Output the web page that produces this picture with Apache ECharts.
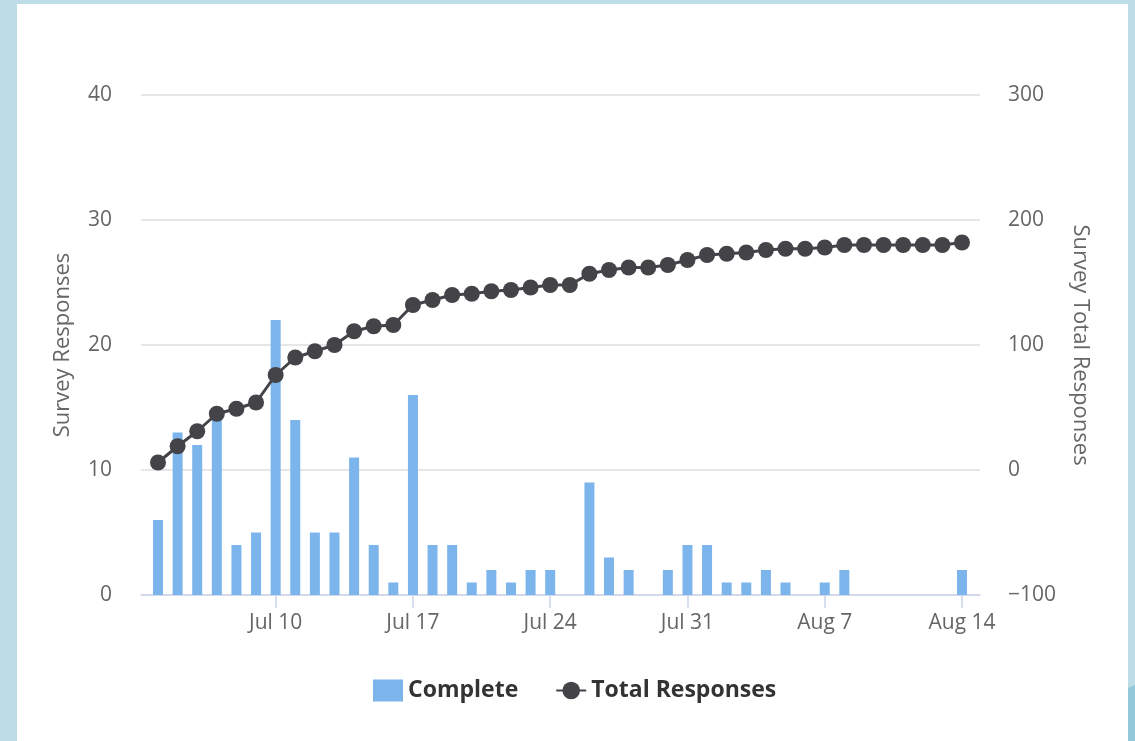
<!DOCTYPE html>
<html>
<head>
<meta charset="utf-8">
<style>
  html, body { margin: 0; padding: 0; background: #ffffff; }
  #chart { width: 1135px; height: 741px; }
</style>
<script src="https://cdn.jsdelivr.net/npm/echarts@6/dist/echarts.min.js"></script>
</head>
<body>
<div id="chart"></div>
<script>
// Daily survey completions and running total, Jul 4 – Aug 14
const dayLabels = [
  'Jul 4', 'Jul 5', 'Jul 6', 'Jul 7', 'Jul 8', 'Jul 9',
  'Jul 10', 'Jul 11', 'Jul 12', 'Jul 13', 'Jul 14', 'Jul 15', 'Jul 16',
  'Jul 17', 'Jul 18', 'Jul 19', 'Jul 20', 'Jul 21', 'Jul 22', 'Jul 23',
  'Jul 24', 'Jul 25', 'Jul 26', 'Jul 27', 'Jul 28', 'Jul 29', 'Jul 30',
  'Jul 31', 'Aug 1', 'Aug 2', 'Aug 3', 'Aug 4', 'Aug 5', 'Aug 6',
  'Aug 7', 'Aug 8', 'Aug 9', 'Aug 10', 'Aug 11', 'Aug 12', 'Aug 13',
  'Aug 14'
];
const complete = [
  6, 13, 12, 14, 4, 5,
  22, 14, 5, 5, 11, 4, 1,
  16, 4, 4, 1, 2, 1, 2,
  2, 0, 9, 3, 2, 0, 2,
  4, 4, 1, 1, 2, 1, 0,
  1, 2, 0, 0, 0, 0, 0,
  2
];
const totalResponses = [
  6, 19, 31, 45, 49, 54,
  76, 90, 95, 100, 111, 115, 116,
  132, 136, 140, 141, 143, 144, 146,
  148, 148, 157, 160, 162, 162, 164,
  168, 172, 173, 174, 176, 177, 177,
  178, 180, 180, 180, 180, 180, 180,
  182
];
// weekly tick positions (day index) on the date axis
const tickDays = [6, 13, 20, 27, 34, 41];

const FONT = '"Open Sans", "DejaVu Sans", sans-serif';
const chart = echarts.init(document.getElementById('chart'), null, { renderer: 'canvas' });

chart.setOption({
  backgroundColor: '#ffffff',
  animation: false,
  textStyle: { fontFamily: FONT },
  graphic: [
    { type: 'rect', left: 0, top: 0, shape: { width: 17, height: 741 }, style: { fill: '#bcdde7' }, silent: true },
    { type: 'rect', left: 0, top: 0, shape: { width: 1135, height: 4 }, style: { fill: '#bcdde7' }, silent: true },
    { type: 'rect', left: 1128, top: 0, shape: { width: 7, height: 741 }, style: { fill: '#bcdde7' }, silent: true },
    { type: 'polygon', shape: { points: [[1128, 688], [1135, 685], [1135, 741], [1128, 741]] }, style: { fill: '#93c7da' }, silent: true }
  ],
  grid: { left: 141, right: 155, top: 95, bottom: 146, containLabel: false },
  legend: {
    left: 368,
    top: 674,
    itemWidth: 30,
    itemHeight: 22,
    itemGap: 37,
    textStyle: { fontFamily: FONT, fontSize: 23, fontWeight: 'bold', color: '#333333' },
    data: [
      { name: 'Complete', icon: 'rect' },
      { name: 'Total Responses' }
    ]
  },
  xAxis: {
    type: 'value',
    min: -0.867,
    max: 41.918,
    splitLine: { show: false },
    axisLine: { show: true, lineStyle: { color: '#ccd6eb', width: 1.5 } },
    axisTick: { show: true, length: 13, lineStyle: { color: '#ccd6eb', width: 1.5 }, customValues: tickDays },
    axisLabel: {
      customValues: tickDays,
      formatter: v => dayLabels[Math.round(v)],
      color: '#666666',
      fontSize: 21,
      fontFamily: FONT,
      margin: 18
    }
  },
  yAxis: [
    {
      type: 'value',
      min: 0,
      max: 40,
      interval: 10,
      name: 'Survey Responses',
      nameLocation: 'middle',
      nameRotate: 90,
      nameGap: 67,
      nameTextStyle: { color: '#666666', fontSize: 22, fontFamily: FONT },
      axisLine: { show: false },
      axisTick: { show: false },
      axisLabel: { color: '#666666', fontSize: 21, fontFamily: FONT, margin: 29 },
      splitLine: { show: true, lineStyle: { color: '#dedede', width: 1.5 } }
    },
    {
      type: 'value',
      min: -100,
      max: 300,
      interval: 100,
      position: 'right',
      name: 'Survey Total Responses',
      nameLocation: 'middle',
      nameRotate: -90,
      nameGap: 89,
      nameTextStyle: { color: '#666666', fontSize: 22, fontFamily: FONT },
      axisLine: { show: false },
      axisTick: { show: false },
      axisLabel: {
        color: '#666666', fontSize: 21, fontFamily: FONT, margin: 28,
        formatter: v => String(v).replace('-', '\u2212')
      },
      splitLine: { show: false }
    }
  ],
  series: [
    {
      name: 'Complete',
      type: 'bar',
      yAxisIndex: 0,
      barWidth: 10,
      itemStyle: { color: '#7cb5ec' },
      data: complete.map((v, i) => [i, v])
    },
    {
      name: 'Total Responses',
      type: 'line',
      yAxisIndex: 1,
      symbol: 'circle',
      symbolSize: 16,
      showAllSymbol: true,
      lineStyle: { color: '#434348', width: 3 },
      itemStyle: { color: '#434348' },
      data: totalResponses.map((v, i) => [i, v])
    }
  ]
});
</script>
</body>
</html>
